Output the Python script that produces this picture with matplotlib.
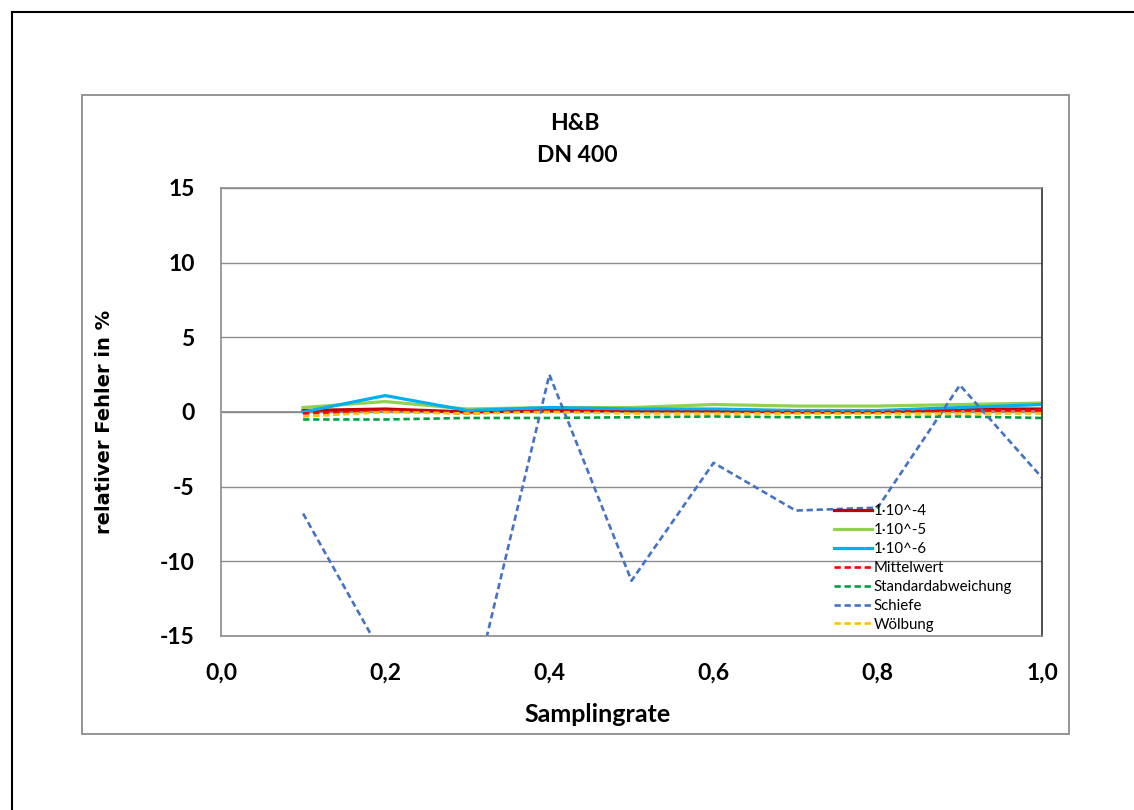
import matplotlib
matplotlib.use("Agg")
import matplotlib.pyplot as plt
from matplotlib.lines import Line2D
from matplotlib.patches import Rectangle

# Sampling rates and relative errors (%)
samplingrate = [0.1, 0.2, 0.3, 0.4, 0.5, 0.6, 0.7, 0.8, 0.9, 1.0]
fehler_1e4 = [0.1, 0.2, 0.0, 0.1, 0.1, 0.1, 0.0, 0.0, 0.2, 0.2]
fehler_1e5 = [0.3, 0.7, 0.2, 0.3, 0.3, 0.5, 0.4, 0.4, 0.5, 0.6]
fehler_1e6 = [0.0, 1.1, 0.1, 0.3, 0.2, 0.2, 0.1, 0.1, 0.3, 0.5]
mittelwert = [-0.1, 0.1, -0.1, 0.1, 0.0, 0.0, 0.0, 0.0, 0.1, 0.1]
standardabweichung = [-0.5, -0.5, -0.4, -0.4, -0.35, -0.3, -0.35, -0.35, -0.3, -0.4]
schiefe = [-6.8, -16.6, -20.5, 2.5, -11.3, -3.4, -6.6, -6.4, 1.8, -4.4]
woelbung = [-0.3, 0.0, -0.1, 0.0, -0.1, -0.1, -0.1, -0.1, -0.1, -0.1]

x_ticks = [0.0, 0.2, 0.4, 0.6, 0.8, 1.0]
x_ticklabels = ["0,0", "0,2", "0,4", "0,6", "0,8", "1,0"]
y_ticks = [-15, -10, -5, 0, 5, 10, 15]
y_ticklabels = ["-15", "-10", "-5", "0", "5", "10", "15"]

W, H = 1134, 810
fig = plt.figure(figsize=(W / 100, H / 100), dpi=100)
fig.patch.set_facecolor("white")

FONT = "Lato"

def fx(px):
    return px / W

def fy(py):
    return 1 - py / H

# outer border
fig.add_artist(Line2D([fx(12), fx(12)], [fy(12), fy(812)], color="black", lw=1.5))
fig.add_artist(Line2D([fx(12), fx(1140)], [fy(12), fy(12)], color="black", lw=1.5))

# chart frame
fig.add_artist(Rectangle((fx(82), fy(734)), fx(1069) - fx(82), fy(95) - fy(734),
                         fill=False, edgecolor="#8c8c8c", lw=1.3))

ax = fig.add_axes([fx(221), fy(636), fx(1042) - fx(221), fy(188) - fy(636)])
ax.set_xlim(0, 1.0)
ax.set_ylim(-15, 15)

ax.set_yticks(y_ticks)
ax.set_yticklabels(y_ticklabels)
ax.set_xticks(x_ticks)
ax.set_xticklabels(x_ticklabels)
ax.tick_params(length=0, labelsize=16.5)
ax.tick_params(axis="y", pad=19)
ax.tick_params(axis="x", pad=19)
for lbl in ax.get_xticklabels() + ax.get_yticklabels():
    lbl.set_fontfamily(FONT)
    lbl.set_fontweight("bold")

ax.grid(axis="y", color="#8c8c8c", lw=1.0)
ax.set_axisbelow(True)
for side in ["left", "top", "bottom"]:
    ax.spines[side].set_color("#8c8c8c")
    ax.spines[side].set_linewidth(1.2)
ax.spines["right"].set_color("#404040")
ax.spines["right"].set_linewidth(1.3)
# zero line
ax.axhline(0, color="#8c8c8c", lw=1.3, zorder=0)

solid_lw = 2.3
dash_lw = 1.9
dash = (0, (2.4, 1.4))

ax.plot(samplingrate, fehler_1e4, color="#C00000", lw=solid_lw, label="1·10^-4")
ax.plot(samplingrate, fehler_1e5, color="#92D050", lw=solid_lw, label="1·10^-5")
ax.plot(samplingrate, fehler_1e6, color="#00B0F0", lw=solid_lw, label="1·10^-6")
ax.plot(samplingrate, mittelwert, color="#FF0000", lw=dash_lw, linestyle=dash, label="Mittelwert")
ax.plot(samplingrate, standardabweichung, color="#00A040", lw=dash_lw, linestyle=dash,
        label="Standardabweichung")
ax.plot(samplingrate, schiefe, color="#4472C4", lw=dash_lw, linestyle=dash, label="Schiefe")
ax.plot(samplingrate, woelbung, color="#FFC000", lw=dash_lw, linestyle=dash, label="Wölbung")

leg = ax.legend(loc="upper left", bbox_to_anchor=(fx(834), fy(504)),
                bbox_transform=fig.transFigure, frameon=False,
                prop={"family": FONT, "size": 10.8},
                handlelength=2.5, handletextpad=0.15, labelspacing=0.33,
                borderpad=0, borderaxespad=0)

fig.text(fx(575), fy(123), "H&B", ha="center", va="center",
         fontfamily=FONT, fontweight="bold", fontsize=16.5)
fig.text(fx(577), fy(155), "DN 400", ha="center", va="center",
         fontfamily=FONT, fontweight="bold", fontsize=16.5)
fig.text(fx(598), fy(715), "Samplingrate", ha="center", va="center",
         fontfamily=FONT, fontweight="bold", fontsize=18)
fig.text(fx(104), fy(422), "relativer Fehler in %", ha="center", va="center",
         rotation=90, fontfamily="DejaVu Sans", fontweight="bold", fontsize=14)

fig.savefig("out.png", dpi=100, facecolor="white")
